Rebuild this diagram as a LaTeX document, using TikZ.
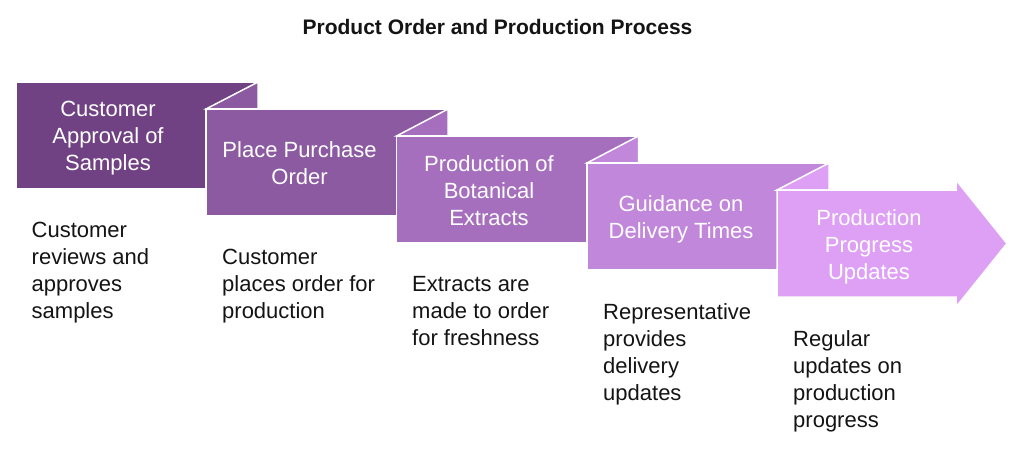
\documentclass[tikz,border=0pt]{standalone}
\usepackage{fontspec}
\setmainfont{Liberation Sans}
\definecolor{cA}{RGB}{112,66,131}
\definecolor{cB}{RGB}{140,90,161}
\definecolor{cC}{RGB}{166,111,190}
\definecolor{cD}{RGB}{193,135,219}
\definecolor{cE}{RGB}{221,160,245}
\definecolor{txt}{RGB}{20,20,20}
\begin{document}
\begin{tikzpicture}[x=1pt,y=-1pt,
  boxline/.style={draw=white, line width=1.5pt, line join=miter},
  lbl/.style={anchor=north, align=center, text=white, inner sep=0pt, font=\fontsize{22}{27}\selectfont},
  desc/.style={anchor=north west, align=left, text=txt, inner sep=0pt, font=\fontsize{22}{27}\selectfont}]
\useasboundingbox (0,0) rectangle (1024,449);
\fill[white] (0,0) rectangle (1024,449);
% title
\node[anchor=base, text=txt, inner sep=0pt, font=\bfseries\fontsize{21}{25}\selectfont] (title) at (497.5,35) {Product Order and Production Process};
% box 1
\filldraw[boxline, fill=cA] (16,82) rectangle (258,189);
% box 2
\filldraw[boxline, fill=cB] (206,109) -- (258,82) -- (258,109) -- cycle;
\filldraw[boxline, fill=cB] (206,109) rectangle (448,216);
% box 3
\filldraw[boxline, fill=cC] (396.5,136) -- (448,109) -- (448,136) -- cycle;
\filldraw[boxline, fill=cC] (396.5,136) rectangle (638.5,243);
% box 4
\filldraw[boxline, fill=cD] (587,163) -- (638.5,136) -- (638.5,163) -- cycle;
\filldraw[boxline, fill=cD] (587,163) rectangle (829,270);
% box 5 (arrow)
\filldraw[boxline, fill=cE] (777,190) -- (829,163) -- (829,190) -- cycle;
\filldraw[boxline, fill=cE] (777,190) -- (956,190) -- (956,180) -- (1007,243.5) -- (956,307) -- (956,297) -- (777,297) -- cycle;
% labels
\node[lbl] (l1) at (108,101.25) {Customer\\Approval of\\Samples};
\node[lbl] (l2) at (299.5,141.25) {Place Purchase\\Order};
\node[lbl] (l3) at (489,155.25) {Production of\\Botanical\\Extracts};
\node[lbl] (l4) at (681,195.25) {Guidance on\\Delivery Times};
\node[lbl] (l5) at (869,209.25) {Production\\Progress\\Updates};
% descriptions
\node[desc] (d1) at (31.5,222.25) {Customer\\reviews and\\approves\\samples};
\node[desc] (d2) at (222,249.25) {Customer\\places order for\\production};
\node[desc] (d3) at (412,276.25) {Extracts are\\made to order\\for freshness};
\node[desc] (d4) at (603,303.25) {Representative\\provides\\delivery\\updates};
\node[desc] (d5) at (793,330.25) {Regular\\updates on\\production\\progress};
\end{tikzpicture}
\end{document}
